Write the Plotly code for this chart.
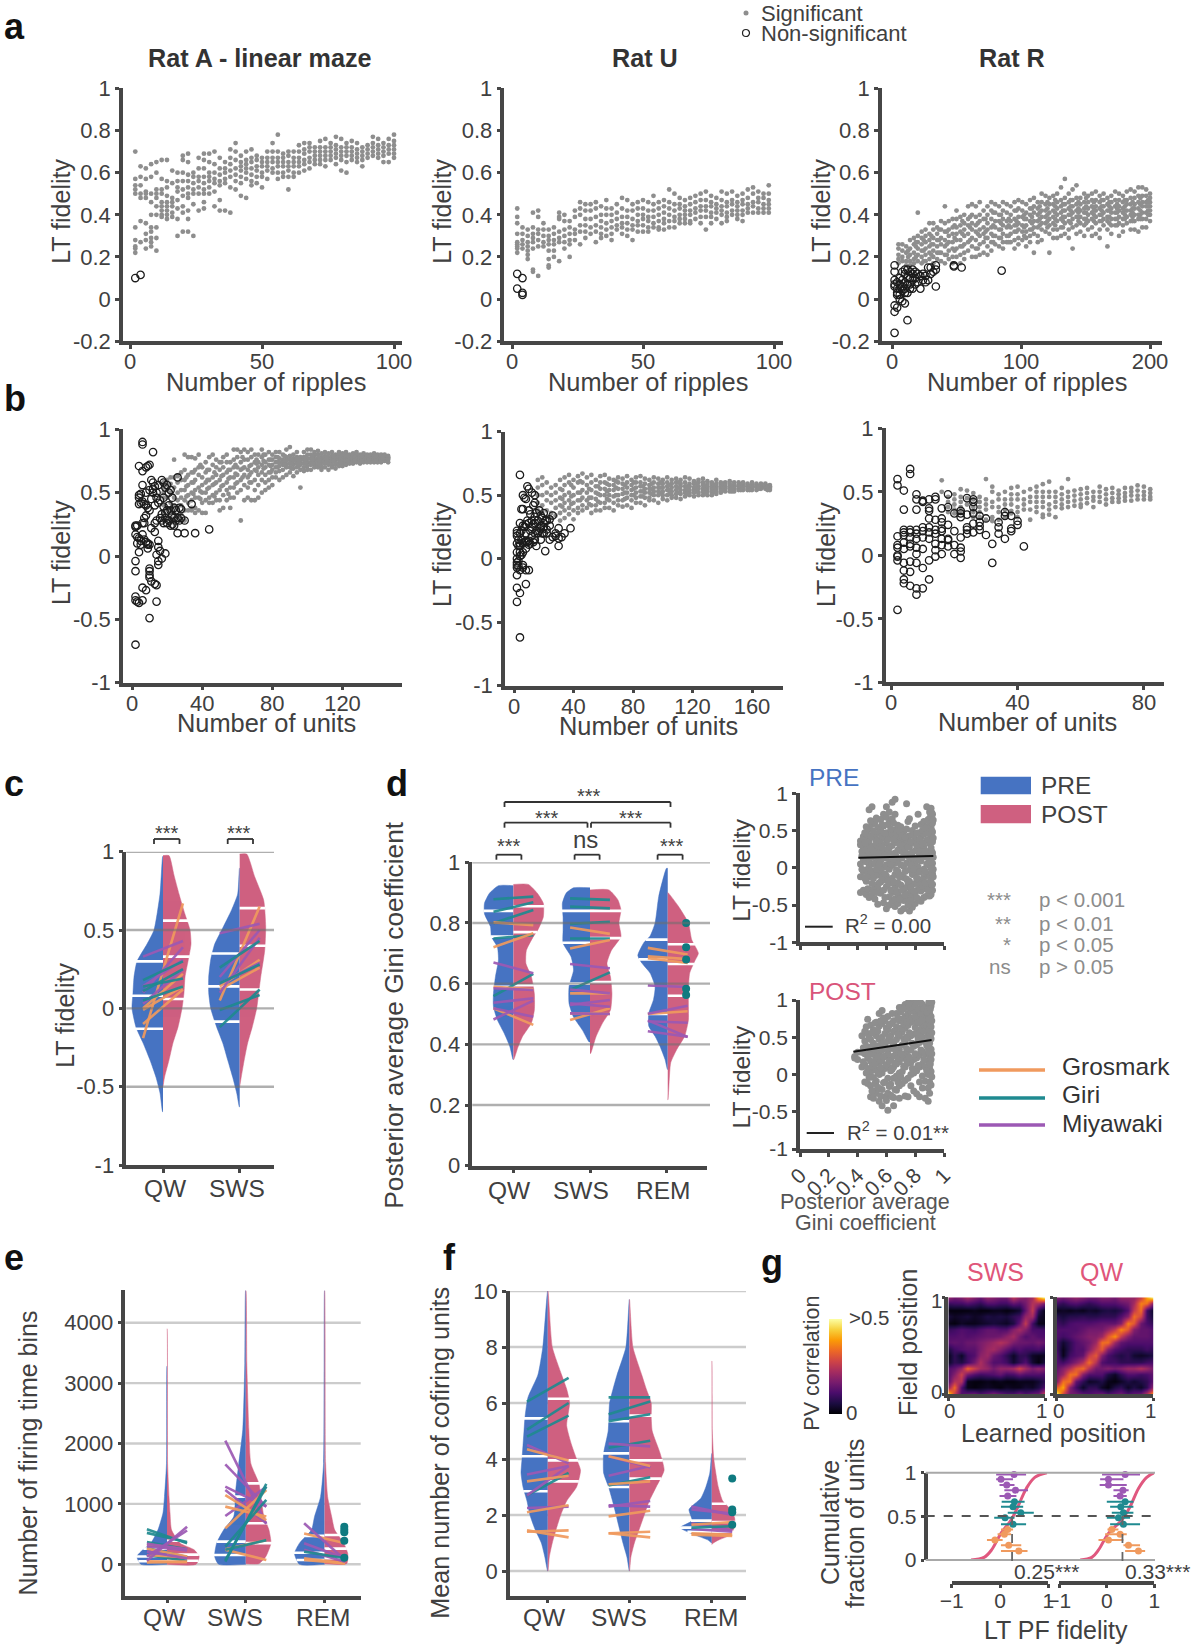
import numpy as np
import plotly.graph_objects as go

W, H = 1193, 1650
BLUE = "#4673C2"; RED = "#CF6080"; ORANGE = "#F09A5E"; TEAL = "#1F8A90"; PURPLE = "#9C59B4"
AXC = "#464646"; TXT = "#404040"; DOT = "#8e8e8e"; GRID = "#cccccc"; FONT = "Liberation Sans"

# ---------- panel a: fidelity vs number of ripples (x column -> y readings) ----------
a1_x = list(range(2, 102, 2))
a1_y = [[.70,.57,.54,.52,.50,.34,.28,.25,.24,.22],[.63,.58,.54,.50,.48,.37,.27],[.62,.57,.51,.50,.48,.36,.31,.28,.24],
[.64,.58,.50,.46,.40,.34,.32,.29,.27,.25],[.65,.60,.52,.50,.48,.44,.40,.34,.29,.23],[.66,.57,.52,.50,.46,.44,.42,.40,.39],
[.66,.56,.53,.49,.46,.44,.42,.40,.38],[.61,.55,.48,.46,.44,.41,.39],[.60,.56,.53,.51,.47,.43,.38,.30],[.68,.66,.60,.56,.52,.49,.44,.41,.32],
[.69,.65,.59,.56,.53,.50,.48,.42,.38,.32],[.60,.58,.55,.52,.50,.45,.30],[.67,.62,.58,.56,.53,.50,.42],[.69,.66,.62,.58,.55,.52,.50,.46,.43],
[.69,.65,.60,.58,.56,.53,.50],[.70,.64,.60,.57,.55,.51,.44],[.67,.62,.59,.56,.54,.47,.42],[.65,.62,.60,.57,.55,.42],[.71,.67,.64,.61,.58,.53,.41],
[.74,.70,.66,.62,.59,.56,.52],[.68,.65,.63,.61,.58,.55,.49],[.70,.66,.64,.62,.60,.57,.48],[.71,.67,.65,.62,.59,.56,.54],[.68,.66,.63,.61,.58,.55],
[.67,.65,.63,.60,.58,.53],[.70,.67,.65,.63,.61,.57],[.74,.70,.67,.65,.62,.60],[.78,.70,.67,.65,.63,.60,.57],[.69,.67,.65,.63,.60,.58],
[.70,.68,.65,.63,.61,.58,.52],[.70,.67,.65,.63,.60,.58],[.73,.70,.67,.65,.63,.60],[.74,.71,.69,.66,.64,.61],[.74,.72,.70,.67,.65,.62],
[.72,.70,.68,.66,.64],[.75,.72,.70,.68,.66,.64],[.76,.72,.70,.68,.66,.63],[.74,.72,.70,.68,.66],[.77,.73,.71,.69,.67,.64],[.76,.72,.70,.68,.66,.61],
[.74,.72,.70,.68,.65,.60],[.75,.72,.70,.68,.66],[.74,.71,.69,.67,.65],[.72,.70,.68,.66,.63],[.73,.71,.69,.67],[.77,.74,.72,.70,.68],
[.76,.73,.71,.69,.67],[.74,.72,.70,.68,.65],[.76,.73,.71,.69,.65],[.78,.75,.73,.71,.69,.67]]
a1_open_x = [2, 4]
a1_open_y = [[.10], [.115]]

a2_x = list(range(2, 100, 2))
a2_y = [[.43,.39,.36,.31,.27,.26,.25,.24,.22],[.34,.31,.28,.26,.24],[.33,.30,.27,.25,.23,.21,.19],[.41,.34,.31,.29,.27,.24,.14,.13],
[.42,.39,.33,.31,.28,.25,.11],[.36,.33,.30,.27,.25],[.33,.30,.28,.26,.23,.19,.16,.15],[.34,.31,.28,.26,.23,.20],[.41,.39,.38,.32,.29,.27,.18],
[.40,.37,.33,.30,.27,.24],[.37,.34,.31,.28,.26,.20],[.42,.39,.33,.31,.28],[.46,.43,.40,.35,.32,.26],[.45,.42,.38,.35,.32,.29],[.45,.42,.38,.34,.31],
[.46,.43,.39,.35,.32,.27],[.44,.40,.37,.34,.31,.29],[.47,.43,.40,.36,.33,.30],[.43,.40,.37,.34,.31,.28],[.45,.41,.38,.35,.33],[.48,.43,.39,.36,.34,.31],
[.47,.42,.39,.36,.33,.30],[.45,.42,.38,.35,.33,.28],[.46,.43,.40,.37,.35,.32],[.47,.43,.40,.38,.35,.32],[.46,.42,.39,.37,.34,.32],[.49,.45,.42,.39,.36,.34],
[.46,.43,.40,.37,.34,.33],[.47,.44,.41,.38,.36,.33],[.52,.46,.43,.40,.37,.34],[.50,.45,.42,.39,.37,.34],[.48,.45,.43,.40,.38,.36],[.47,.44,.42,.40,.38,.36],
[.48,.45,.42,.40,.37,.36],[.49,.46,.43,.41,.38],[.50,.47,.44,.42,.39,.36],[.51,.47,.44,.42,.39,.33],[.49,.46,.44,.41,.39,.36],[.48,.45,.43,.41,.38],
[.51,.47,.44,.42,.40,.36],[.50,.46,.44,.41,.39,.37],[.51,.47,.45,.42,.40],[.49,.46,.44,.42,.40,.38],[.50,.47,.45,.42,.40,.37],[.52,.48,.45,.43,.41],
[.53,.50,.46,.44,.41],[.51,.48,.46,.43,.41],[.50,.48,.45,.43,.41],[.54,.50,.47,.45,.43,.41]]
a2_open_x = [2, 4]
a2_open_y = [[.12,.05], [.03,.02,.10]]

a3_x = list(range(5, 203, 3))
a3_y = [[.26,.24,.21,.19,.17],[.26,.23,.20,.18],[.25,.22,.18,.16],[.28,.24,.21,.18,.16],[.29,.26,.22,.19,.17],[.41,.30,.27,.24,.21,.18],
[.32,.29,.26,.23,.20,.17],[.33,.30,.27,.24,.21,.18],[.36,.31,.28,.25,.22,.19],[.36,.33,.29,.26,.23,.20,.17],[.34,.31,.28,.25,.22,.19],[.37,.33,.29,.26,.22,.18],
[.44,.36,.32,.28,.25,.21,.17],[.37,.33,.30,.27,.23,.19],[.38,.34,.31,.27,.24,.20,.17],[.42,.38,.34,.31,.28,.24,.20],[.39,.35,.32,.28,.25,.21,.17],
[.40,.36,.33,.30,.26,.22,.19],[.44,.38,.35,.31,.27,.23],[.45,.40,.36,.33,.29,.25,.20],[.44,.39,.35,.32,.28,.24,.20],[.46,.40,.37,.33,.30,.26,.21],
[.42,.38,.34,.31,.27,.22],[.44,.40,.36,.33,.29,.25,.21],[.46,.42,.38,.34,.31,.27,.23],[.45,.41,.37,.34,.30,.26],[.44,.40,.37,.33,.29,.25],
[.46,.42,.38,.35,.31,.27,.24],[.45,.41,.37,.34,.30,.27],[.44,.40,.37,.34,.31,.27],[.46,.42,.38,.35,.32,.28,.24],[.47,.43,.39,.36,.33,.29,.26],
[.46,.42,.39,.35,.32,.28],[.45,.41,.38,.35,.32,.29,.25],[.47,.43,.40,.37,.33,.30,.27],[.48,.44,.41,.37,.34,.31,.22],[.46,.43,.40,.37,.34,.30,.27],
[.50,.46,.42,.39,.36,.33,.28],[.49,.45,.42,.39,.36,.32],[.48,.45,.41,.38,.35,.31,.22],[.49,.45,.42,.39,.36,.33,.29],[.50,.46,.43,.40,.37,.33,.29],
[.53,.47,.44,.41,.38,.34,.30],[.57,.48,.45,.42,.39,.36,.31],[.50,.46,.43,.40,.37,.33,.29],[.52,.47,.44,.41,.38,.34,.24],[.54,.48,.45,.42,.39,.35,.31],
[.48,.45,.42,.39,.36,.32],[.50,.46,.43,.41,.38,.35,.30],[.49,.46,.43,.40,.37,.33],[.50,.47,.44,.41,.38,.34,.30],[.51,.47,.44,.42,.39,.36,.31],
[.49,.46,.43,.40,.37,.33,.29],[.50,.47,.44,.41,.38,.35],[.48,.45,.42,.39,.37,.33,.25],[.49,.46,.43,.41,.38,.35,.31],[.51,.47,.44,.41,.38,.35],
[.50,.47,.44,.42,.39,.36,.30],[.49,.46,.43,.41,.38,.35,.32],[.51,.47,.45,.42,.39,.36],[.52,.48,.45,.42,.40,.37,.33],[.51,.48,.45,.43,.40,.37,.33],
[.53,.49,.46,.43,.40,.38,.32],[.53,.49,.46,.44,.41,.38,.34],[.52,.49,.46,.44,.41,.38,.34],[.50,.48,.46,.44,.42,.40,.37]]
# denser core of the Rat R cloud, between the columns above
a3_core_x = [x + 1.5 for x in range(11, 200, 6)]
a3_core_y = [[.23,.20],[.25,.20,.27],[.23,.28,.18],[.30,.21,.26],[.28,.33,.22],[.26,.32,.21],[.29,.35,.23],[.31,.25,.37],[.28,.34,.39],[.31,.24,.36],[.32,.29,.38],
[.35,.30,.27,.41],[.33,.36,.29,.40],[.30,.35,.38,.27],[.37,.32,.42,.35],[.34,.40,.38,.30],[.36,.43,.33,.39],[.41,.35,.38,.44],[.40,.37,.43,.34,.46],
[.38,.44,.41,.35,.47],[.42,.37,.45,.39,.34],[.44,.40,.36,.47,.42],[.39,.46,.43,.37,.41],[.41,.44,.38,.48,.36],[.43,.40,.46,.37,.42],[.40,.44,.37,.47,.42],
[.42,.46,.39,.44,.36],[.41,.38,.45,.43,.35],[.44,.40,.47,.38,.42],[.43,.46,.39,.41,.37],[.45,.42,.48,.40,.38],[.44,.47,.42,.40,.46],[.45,.43,.41,.47,.49]]
a3_open_x = [2,4,6,8,10,12,14,16,18,20,22,24,26,28,30,32,34,48,54,85]
a3_open_y = [[.16,.13,.09,.07,.06,-.03,-.06,-.16],[.08,.05,.03,.02,-.04],[.10,.07,.05,.02,0],[.13,.09,.06,.04,-.01],[.14,.12,.08,.05,.03,-.02],
[.14,.10,.07,.03,-.10],[.13,.10,.07,.05],[.14,.12,.09,.05],[.13,.10,.07],[.12,.08],[.11,.05],[.12,.09],[.11,.08],[.15,.09],[.15,.12],[.13],[.16,.14,.06],[.16,.155],[.15],[.135]]

# ---------- panel b: fidelity vs number of units ----------
b1_x = list(range(18, 148, 2))
b1_y = [[.58,.54,.50,.46,.40,.34,.28],[.60,.56,.52,.46,.38,.30],[.62,.57,.50,.42,.36,.30,.26],[.76,.62,.54,.46,.40,.34,.28],[.63,.58,.50,.44,.38,.32],
[.66,.60,.52,.46,.40,.33,.28],[.80,.68,.60,.52,.44,.36,.28],[.78,.64,.56,.48,.42,.36],[.78,.66,.58,.50,.44,.38,.36],[.77,.68,.60,.52,.46,.38,.34],
[.80,.70,.64,.54,.46,.36],[.70,.62,.56,.50,.42,.34],[.74,.66,.58,.50,.44,.34],[.78,.68,.60,.54,.46,.42],[.80,.72,.62,.56,.48,.42],[.76,.70,.64,.58,.50,.44],
[.74,.68,.60,.52,.44,.36],[.78,.70,.64,.56,.48,.38],[.80,.74,.66,.58,.52,.44],[.74,.68,.62,.54,.46,.38],[.84,.76,.70,.62,.54,.46],[.84,.78,.70,.64,.58,.50],
[.82,.74,.68,.60,.52,.28],[.84,.76,.70,.64,.56,.44],[.82,.76,.68,.62,.54,.46],[.84,.78,.72,.66,.58,.44],[.80,.74,.68,.60,.52,.44],[.80,.74,.70,.64,.56,.46],
[.84,.78,.72,.66,.60,.50],[.80,.74,.70,.64,.58,.52],[.82,.76,.72,.66,.60,.54],[.80,.76,.72,.68,.62,.56],[.82,.78,.74,.70,.66,.62],[.82,.77,.74,.71,.67,.60],
[.80,.76,.74,.72,.68,.62],[.84,.78,.75,.72,.70,.64],[.86,.79,.76,.73,.70,.66],[.80,.77,.75,.72,.69,.63],[.82,.78,.75,.73,.70,.66],[.78,.76,.74,.72,.68,.54],
[.82,.78,.76,.73,.70,.67],[.84,.80,.77,.74,.71,.68],[.84,.80,.77,.74,.72,.68],[.82,.79,.76,.74,.72,.70],[.83,.80,.77,.75,.72,.70],[.81,.78,.76,.74,.71,.68],
[.82,.79,.77,.75,.73,.70],[.81,.78,.76,.74,.72,.68],[.82,.79,.77,.75,.72,.70],[.80,.78,.76,.74,.72,.69],[.82,.80,.78,.76,.73,.71],[.81,.79,.77,.75,.73,.71],
[.82,.80,.78,.76,.74,.72],[.80,.78,.77,.75,.73],[.81,.79,.77,.75,.73],[.82,.80,.78,.76,.74],[.80,.78,.76,.74,.73],[.81,.79,.77,.75,.74],[.80,.79,.77,.75,.74],
[.80,.78,.77,.75,.74],[.81,.79,.77,.76,.74],[.80,.79,.77,.76,.74],[.80,.78,.77,.76,.74],[.80,.79,.77,.76,.75],[.79,.78,.77,.76,.74]]
b1_core_x = list(range(31, 147, 4))
b1_core_y = [[.55,.47,.62],[.58,.49,.66],[.51,.45,.72],[.60,.53,.68],[.57,.66,.47],[.63,.55,.74],[.68,.61,.49],[.65,.72,.57],[.69,.62,.78],[.71,.64,.58],[.73,.67,.76],[.75,.69,.80],[.76,.71,.66],
[.74,.78,.70],[.75,.72,.79],[.76,.73,.69],[.77,.74,.71],[.78,.75,.73],[.76,.79,.73],[.77,.75,.72],[.78,.76,.74],[.77,.75,.79],[.78,.76,.74],[.77,.75,.79],[.78,.76,.75],[.77,.79,.75],[.78,.76,.75],[.77,.75,.79],[.78,.76,.77]]
b1_open_x = [2,3,4,5,6,7,8,9,10,11,12,13,14,15,16,17,18,19,20,21,22,23,24,25,26,27,28,30,34,36,44]
b1_open_y = [[.24,.23,.17,-.04,-.12,-.32,-.35,-.70],[.15,.10,.24,-.36],[.71,.48,.46,.41,.14,.03,-.37],[.49,.42,.12,.09],[.90,.88,.67,.56,.43,.26,.17,-.25,-.35],
[.41,.30,.26,.13],[.70,.50,.40,.32,.11,-.27],[.71,.38,.10,.09,.06],[.72,.52,.36,.09,-.10,-.12,-.15,-.17,-.49],[.60,.45,.22,-.20],[.82,.58,.53,.50],
[.55,.40,.26,.19,-.22],[.50,.46,.28,.01,-.23,-.36],[.56,.42,.12,.07,-.04,-.07],[.44,.30,.04],[.60,.33,.28,-.02],[.58,.46,.39,.26],[.54,.34,.30,.02],
[.56,.36,.26],[.50,.40,.28],[.52,.36,.24],[.46,.32,.25],[.38,.30,.24],[.36,.28],[.62,.30,.18],[.38,.28],[.37,.30],[.28,.18],[.41],[.18],[.21]]

b2_x = list(range(16, 175, 3))
b2_y = [[.62,.56,.50,.44,.38],[.64,.58,.50,.42,.36],[.60,.52,.46,.38,.33],[.56,.50,.44,.36,.32],[.58,.52,.46,.40,.34],[.62,.55,.48,.42,.36,.30],
[.64,.58,.50,.44,.38,.32],[.66,.60,.52,.46,.40,.35],[.62,.56,.50,.44,.38,.31],[.65,.60,.52,.46,.40,.36],[.67,.60,.54,.48,.42,.38],[.64,.58,.52,.46,.40],
[.66,.60,.54,.48,.42,.36],[.62,.57,.52,.47,.42,.38],[.65,.60,.55,.50,.44,.38],[.66,.60,.55,.50,.44,.40],[.63,.58,.54,.50,.46,.40],[.62,.58,.54,.49,.44,.38],
[.64,.60,.55,.50,.46,.42],[.63,.59,.55,.51,.46,.41],[.65,.60,.56,.52,.48,.42],[.62,.58,.54,.50,.46,.40],[.64,.60,.56,.52,.48,.44],[.65,.60,.57,.53,.49,.44],
[.63,.59,.55,.52,.48,.42],[.62,.58,.55,.52,.48,.46],[.64,.60,.56,.53,.50,.46],[.63,.59,.56,.53,.50,.44],[.62,.59,.56,.53,.50,.47],[.64,.60,.57,.54,.50,.46],
[.62,.59,.56,.53,.50,.48],[.63,.60,.57,.54,.51,.48],[.62,.59,.57,.54,.51,.47],[.64,.60,.57,.54,.52,.49],[.63,.59,.57,.54,.52,.50],[.61,.59,.56,.54,.52,.49],
[.62,.60,.57,.55,.52,.50],[.63,.60,.58,.55,.53,.50],[.61,.59,.57,.55,.53,.50],[.60,.58,.56,.54,.52,.50],[.62,.59,.57,.55,.53,.51],[.60,.58,.56,.54,.52],
[.60,.58,.56,.55,.53],[.61,.59,.57,.55,.53],[.60,.58,.57,.55,.53],[.60,.58,.57,.55,.54],[.60,.59,.57,.56,.54],[.59,.58,.57,.55,.54],[.60,.58,.57,.56,.54],
[.59,.58,.57,.56,.54],[.59,.58,.57,.56,.55],[.59,.58,.57,.56,.55],[.58,.57,.56,.55,.54],[.58,.57,.56,.55]]
b2_core_x = [x + 1.5 for x in range(31, 170, 6)]
b2_core_y = [[.54,.47,.41],[.58,.49,.43],[.52,.46,.61],[.55,.48,.43],[.51,.57,.45],[.53,.59,.47],[.56,.50,.61],[.52,.58,.47],[.55,.50,.60],[.57,.53,.49],[.55,.59,.51],[.56,.52,.60],
[.58,.54,.51],[.56,.60,.52],[.57,.54,.51],[.55,.59,.53],[.57,.54,.52],[.58,.55,.53],[.56,.54,.59],[.57,.55,.53],[.58,.56,.54],[.57,.55,.54],[.57,.56,.55],[.57,.56,.54]]
b2_open_x = [2,3,4,5,6,7,8,9,10,11,12,13,14,15,16,17,18,19,20,21,22,24,26,28,30,32,34,38]
b2_open_y = [[.22,.20,.18,.12,.05,.0,-.03,-.05,-.07,-.13,-.23,-.34],[.15,.10,-.02,-.06],[.66,.28,.20,.12,.10,.05,.02,-.09,-.27,-.62],[.39,.22,.15,.03],
[.50,.39,.26,.12,.05,-.05,-.07],[.48,.25,.13],[.47,.27,.20,.14,.08,-.09,-.20],[.57,.30,.13],[.55,.38,.28,.14,.11,-.09],[.35,.22,.12],[.52,.30,.25,.18],
[.42,.27,.13],[.50,.44,.33,.28,.20,.15],[.36,.22,.10],[.30,.20],[.38,.22],[.34,.26,.24,.15],[.32,.20],[.36,.28,.25,.20],[.06,.30],[.30,.23,.20],[.31,.26,.15],
[.34,.17],[.20,.18],[.24,.16,.10],[.17],[.20],[.24]]

b3_x = list(range(16, 84, 2))
b3_y = [[.59,.50],[.46,.42,.38,.34],[.48,.44,.40,.36,.33],[.52,.46,.42,.38,.34],[.51,.45,.40],[.49,.44,.38,.34,.30],[.46,.42,.38,.34,.30],[.60,.44,.40,.36,.28],
[.54,.50,.42,.38,.30,.27],[.48,.44,.38,.34,.28],[.50,.44,.40,.36,.30],[.53,.48,.44,.40,.35,.33],[.54,.48,.44,.38,.34,.30],[.50,.44,.40,.36],[.52,.46,.42,.36,.28],
[.54,.50,.46,.42,.38,.34],[.56,.50,.46,.42,.38,.32,.30],[.58,.50,.46,.40,.36,.32],[.50,.46,.42,.38,.30],[.53,.48,.44,.40,.37],[.60,.50,.46,.42,.38],[.51,.47,.43,.39],
[.52,.48,.44,.40,.38],[.53,.49,.45,.41],[.50,.46,.43,.38],[.54,.50,.46,.42],[.52,.48,.44,.40],[.53,.49,.45,.42],[.51,.48,.45,.42],[.53,.49,.46,.43],[.53,.50,.47,.43],
[.55,.51,.47,.44],[.54,.50,.47,.44],[.52,.49,.46,.44]]
b3_open_x = [2,4,6,8,10,12,14,16,18,20,22,24,26,28,30,32,34,36,38,40,42]
b3_open_y = [[.60,.55,.15,.08,.06,0,-.01,-.04,-.43],[.51,.36,.20,.18,.16,.10,.05,-.06,-.12,-.19,-.22],[.68,.64,.20,.18,.14,.09,.07,-.05,-.13,-.24],
[.48,.44,.36,.20,.17,.13,.06,.01,-.06,-.26,-.31],[.43,.42,.22,.19,.14,.05,-.10,-.26],[.44,.37,.35,.29,.22,.18,.13,-.04,-.19],[.46,.44,.28,.20,.17,.09,.04,-.01],
[.37,.29,.26,.21,.19,.13,.08,.01],[.48,.38,.24,.13,.12,.07],[.33,.19,.08,.01],[.35,.33,.30,.14,.06,.03,-.02],[.45,.32,.22,.20,.17],[.44,.42,.38,.33,.25,.18],
[.31,.26,.23,.20],[.29,.16],[.09,-.06],[.26,.22,.17],[.34,.31,.13],[.31,.21,.19],[.27,.24],[.07]]

# ---------- violins: (value, half width) readings; white quartile marks; paired lines (pre, post) ----------
c_qw_pre = [(.97,.3),(.73,3),(.5,9),(.41,16),(.3,26),(.2,29),(.1,30),(0,31),(-.12,27),(-.22,20),(-.33,13),(-.44,7),(-.54,3),(-.66,.4)]
c_qw_post = [(.975,6),(.85,11),(.73,16),(.6,22),(.5,27),(.41,28),(.3,25),(.2,22),(.1,21),(0,19),(-.12,15),(-.22,10),(-.33,6),(-.44,1.5),(-.5,0)]
c_sws_pre = [(.895,.2),(.73,2),(.63,8),(.5,18),(.41,25),(.31,29),(.2,31),(.1,31),(0,29),(-.12,23),(-.22,17),(-.33,12),(-.44,7),(-.54,3),(-.63,.3)]
c_sws_post = [(.985,7),(.84,15),(.69,24),(.52,26),(.37,25),(.2,21),(.1,19),(0,17),(-.12,12.5),(-.22,8),(-.33,4.5),(-.44,1.5),(-.5,0)]
c_white = {"qw_pre":[.30,.08,-.13],"qw_post":[.56,.33,.06],"sws_pre":[.35,.14,-.085],"sws_post":[.64,.40,.12]}
c_qw_orange = [(-.19,.67),(0,.22),(-.1,.12),(-.01,.14)]
c_qw_purple = [(.33,.43),(.14,.31),(.1,.39),(.03,.25)]
c_qw_teal = [(.18,.30),(.14,.19),(.11,.25),(.05,.14)]
c_sws_orange = [(.05,.65),(.14,.31),(.12,.26)]
c_sws_purple = [(.48,.54),(.2,.5),(.1,.45),(.16,.29)]
c_sws_teal = [(.26,.43),(.16,.28),(-.01,.085),(-.12,.12)]

d_qw_pre = [(.923,15),(.898,24),(.865,29),(.83,29),(.788,23),(.755,22),(.72,16),(.678,15),(.623,18),(.567,20),(.524,20),(.48,16),(.435,9),(.392,3.5),(.35,.4)]
d_qw_post = [(.927,15),(.898,24),(.865,30),(.82,30),(.777,24.5),(.755,20),(.71,13),(.667,12.5),(.623,18),(.567,21),(.513,21),(.47,18),(.425,9),(.39,4.5),(.35,.4)]
d_sws_pre = [(.916,16.5),(.898,24),(.865,27.7),(.82,27),(.777,27),(.733,27),(.689,19),(.645,16.5),(.59,21),(.535,21),(.49,16.5),(.447,7.6),(.408,1)]
d_sws_post = [(.909,19),(.876,28),(.843,31),(.80,29),(.755,31),(.71,21.5),(.667,17),(.623,20.5),(.567,22),(.513,20.5),(.47,12.5),(.425,6),(.37,.6)]
d_rem_pre = [(.98,1.3),(.888,9),(.80,12.7),(.757,17.7),(.735,24),(.693,30),(.668,26),(.635,17.7),(.59,12.7),(.547,14.3),(.503,19),(.46,19),(.427,12.7),(.393,7.7),(.35,2.7),(.317,.3)]
d_rem_post = [(.90,.3),(.855,10.7),(.80,20.7),(.745,24),(.70,30.7),(.674,27),(.635,22),(.58,20.7),(.525,20.7),(.48,20.7),(.427,17),(.383,9),(.34,3),(.272,1.3),(.217,.2)]
d_white = {"qw_pre":[.84,.755,.59],"qw_post":[.855,.77,.595],"sws_pre":[.84,.735,.60],"sws_post":[.84,.75,.605],"rem_pre":[.745,.68,.50],"rem_post":[.73,.665,.56]}
d_qw_teal = [(.878,.887),(.837,.868),(.799,.843),(.749,.76),(.559,.632)]
d_qw_orange = [(.72,.766),(.802,.793),(.59,.581),(.519,.464)]
d_qw_purple = [(.67,.634),(.585,.579),(.537,.552),(.519,.491),(.482,.544)]
d_sws_teal = [(.881,.876),(.854,.848),(.797,.804),(.749,.749),(.579,.637)]
d_sws_orange = [(.785,.764),(.716,.744),(.568,.568),(.502,.50),(.48,.519)]
d_sws_purple = [(.665,.651),(.581,.568),(.53,.546),(.535,.524),(.502,.50)]
d_rem_orange = [(.718,.696),(.69,.681),(.684,.668),(.50,.509)]
d_rem_purple = [(.594,.589),(.501,.527),(.476,.471),(.479,.424),(.443,.425)]
d_rem_dots = [.80,.72,.68,.583,.563]

e_qw_pre = [(3280,.1),(1670,.5),(1120,2.5),(850,4),(570,9),(350,16),(240,24),(130,30),(0,26)]
e_qw_post = [(3900,.1),(1670,.6),(1120,2),(850,3),(570,4.5),(350,13),(240,27),(130,32),(0,29)]
e_sws_pre = [(4530,.2),(3330,1),(2230,3),(1670,7),(1230,10),(790,12),(570,22),(350,29),(130,31),(0,27)]
e_sws_post = [(4530,.2),(3330,1),(2230,3),(1670,5),(1340,13),(1120,15),(790,18),(570,23),(350,25),(130,20),(10,13)]
e_rem_pre = [(4530,.1),(1670,1),(1120,4),(790,10),(570,13),(350,25),(180,30),(0,25)]
e_rem_post = [(4530,.1),(1670,1),(1120,3),(790,7),(570,10),(350,19),(180,23),(10,22)]
e_white = {"qw_pre":[50,130,260],"qw_post":[60,160,390],"sws_pre":[155,375,1120],"sws_post":[350,680,1340],"rem_pre":[70,190,470],"rem_post":[100,260,485]}
e_qw_teal = [(580,350),(520,370),(370,250),(150,60),(270,120)]
e_qw_purple = [(60,620),(130,560),(300,230),(210,100),(340,250)]
e_qw_orange = [(330,240),(260,130),(30,40),(50,40),(150,120)]
e_sws_purple = [(2047,670),(1655,955),(1285,955),(800,1285),(1230,680)]
e_sws_orange = [(1147,730),(955,790),(595,1230),(248,400),(240,72)]
e_sws_teal = [(44,1330),(292,1065),(70,1285),(240,400)]
e_rem_purple = [(680,72),(350,100),(240,44)]
e_rem_orange = [(510,350),(70,15),(100,15)]
e_rem_teal = [(210,100)]
e_rem_dots = [620,570,530,390,110]

f_qw_pre = [(10,.2),(8,5),(7,10),(6.2,20),(5.5,23),(5,24),(4.5,25),(4,26),(3.5,27),(3,25),(2.5,21),(2,18),(1.5,13),(1,6.5),(.5,3),(0,.2)]
f_qw_post = [(10,.2),(8,4.5),(7,14),(6.5,19),(6,22),(5.2,19),(4.5,24),(4,29),(3.6,33),(3,29),(2.5,19),(2,13),(1.5,8.5),(1,4.5),(.5,1.5),(0,.2)]
f_sws_pre = [(9.7,.1),(8,3.5),(7,12.5),(6.5,16.5),(6,20),(5,21.4),(4.2,26),(3.5,26),(3,21),(2.5,17),(2,13.4),(1.5,10),(1,6.5),(.5,2.5),(0,.1)]
f_sws_post = [(9.7,.1),(8,3.5),(7,12.5),(6.5,17),(6,22),(5.5,22),(5,23),(4.2,31),(3.6,35),(3,27),(2.5,20),(2,15),(1.5,10),(1,5),(.5,1.5),(0,.1)]
f_rem_pre = [(4.2,.1),(3.5,2),(3,6),(2.6,11),(2.2,23),(1.8,20),(1.55,32),(1.3,18),(1.1,3.5),(1,.2)]
f_rem_post = [(7.5,.1),(5,.5),(4,2),(3,6.5),(2.5,11),(2.2,19),(1.9,23),(1.6,23),(1.3,19),(1.1,6.5),(1,1.5),(.95,.2)]
f_white = {"qw_pre":[5.45,4.1,2.85],"qw_post":[6.15,3.95,3.2],"sws_pre":[5.35,4.2,3.0],"sws_post":[5.55,3.95,3.3],"rem_pre":[1.8,1.55,1.4],"rem_post":[2.4,1.75,1.4]}
f_qw_teal = [(6.05,6.9),(5.05,6.0),(4.8,5.55),(2.7,3.5)]
f_qw_purple = [(4.5,3.85),(3.45,3.75),(2.7,3.75),(2.25,2.3)]
f_qw_orange = [(4.35,3.95),(3.2,3.4),(2.1,2.35),(1.4,1.45),(1.45,1.2)]
f_sws_teal = [(6.2,6.2),(5.6,6.05),(5.35,5.6),(4.4,4.65),(3.05,3.35)]
f_sws_purple = [(4.55,4.45),(3.4,3.75),(4.1,3.7),(2.3,2.5),(2.35,2.3)]
f_sws_orange = [(4.1,3.75),(3.1,3.2),(1.95,2.15),(1.35,1.4),(1.35,1.2)]
f_rem_purple = [(2.3,2.0),(2.2,2.05),(1.5,1.4),(1.7,1.45)]
f_rem_teal = [(1.55,1.6)]
f_rem_orange = [(1.65,1.75),(1.3,1.25),(1.35,1.3)]
f_rem_dots = [3.3,2.2,2.1,1.65]

# ---------- panel d insets ----------
pre_x = [.42,.44,.46,.48,.50,.52,.54,.56,.58,.60,.62,.64,.66,.68,.70,.72,.74,.76,.78,.80,.82,.84,.86,.88,.90,.91,.92]
pre_y = [[.36,.31,.05,-.12,-.33],[.42,.25,.11,-.05,-.30],[.55,.38,.31,.17,.08,-.03,-.18,-.36],[.78,.52,.35,.21,.12,.01,-.12,-.29,-.40],[.82,.58,.41,.28,.14,.05,-.07,-.21,-.37],
[.61,.44,.30,.17,.06,-.07,-.23,-.42],[.54,.38,.26,.11,-.01,-.10,-.27,-.49],[.65,.50,.33,.22,.09,-.04,-.19,-.34],[.72,.56,.40,.24,.13,.01,-.16,-.30,-.47],[.82,.68,.47,.33,.18,.04,-.11,-.25,-.55],
[.75,.61,.43,.27,.11,-.02,-.21,-.39,-.50],[.88,.66,.44,.30,.15,.03,-.14,-.33,-.45],[.92,.72,.51,.34,.20,.06,-.09,-.24,-.42,-.52],[.57,.41,.24,.10,-.05,-.20,-.36,-.48],
[.55,.37,.23,.04,-.10,-.23,-.40,-.58],[.48,.33,.17,.02,-.13,-.30,-.44,-.55],[.86,.52,.36,.19,.06,-.15,-.26,-.42],[.66,.43,.28,.13,-.03,-.18,-.34,-.50,-.58],[.50,.34,.21,.06,-.09,-.22,-.38,-.53],
[.56,.38,.23,.07,-.08,-.21,-.33,-.48],[.72,.47,.30,.12,.01,-.15,-.29,-.42],[.58,.41,.25,.09,-.05,-.18,-.31,-.45],[.62,.45,.29,.15,-.02,-.13,-.28,-.40],[.82,.55,.37,.22,.05,-.08,-.23,-.38],
[.75,.62,.47,.33,.18,.03,-.11,-.25,-.38],[.80,.68,.55,.42,.27,.13,0,-.15,-.28,-.36],[.72,.60,.48,.35,.20,.06,-.08,-.22,-.30]]
pre_x2 = [.43,.45,.47,.49,.51,.53,.55,.57,.59,.61,.63,.65,.67,.69,.71,.73,.75,.77,.79,.81,.83,.85,.87,.89,.905,.915,.925]
pre_y2 = [[.22,-.02,.16],[.33,-.14,.47],[.44,-.09,.24,-.28],[.63,.27,-.04,.43],[.49,.22,-.14,-.30],[.67,.36,-.02,-.33],[.47,.19,-.20,.05],[.58,.28,-.12,.42],[.46,.17,-.08,-.40],[.58,.25,-.17,.38],
[.52,.19,-.30,.05],[.38,.11,-.19,.60],[.45,.15,-.31,-.03],[.49,.32,-.12,-.42],[.30,.13,-.30,.43],[.41,.25,-.05,-.37],[.62,.28,-.20,-.50],[.35,.04,-.26,-.44],[.44,.13,-.31,-.02],[.46,.30,-.14,-.40],
[.37,.18,-.23,-.06],[.50,.16,-.25,.33],[.53,.22,-.20,-.05],[.46,.13,-.30,.65],[.68,.38,.08,-.18],[.74,.50,.22,-.05,-.22],[.64,.40,.14,-.12,-.02]]
pre_fit_x = [.405,.926]; pre_fit_y = [.136,.159]
post_x = [.38,.40,.43,.45,.47,.49,.51,.53,.55,.57,.59,.61,.63,.65,.67,.69,.71,.73,.75,.77,.79,.81,.83,.85,.87,.89,.90,.91]
post_y = [[.24,.22],[.30,.20],[.52,.30,.10],[.58,.45,.28,.13,-.10],[.74,.55,.37,.22,.08,-.12],[.66,.47,.32,.18,.03,-.15,-.30],[.60,.42,.27,.10,-.04,-.22,-.32],
[.70,.52,.38,.21,.06,-.09,-.25],[.82,.65,.47,.30,.15,0,-.19,-.36],[.86,.68,.50,.33,.18,.02,-.20,-.42],[.72,.55,.40,.24,.08,-.10,-.30],[.78,.60,.45,.28,.11,-.05,-.25,-.48],
[.68,.52,.35,.20,.05,-.13,-.28],[.72,.58,.42,.25,.10,-.05,-.31,-.42],[.82,.64,.47,.30,.14,-.02,-.21],[.90,.72,.52,.34,.17,.02,-.15,-.32],[.90,.74,.57,.40,.22,.04,-.12],
[.94,.78,.62,.44,.28,.10,-.08,-.29],[.96,.82,.66,.49,.32,.15,-.05,-.30],[.98,.85,.70,.52,.33,.16,0,-.15],[.98,.86,.72,.54,.38,.20,.02,-.22],[.97,.84,.69,.56,.40,.22,.05,-.26],
[.98,.86,.74,.60,.43,.26,.10,-.10,-.30],[.94,.80,.66,.50,.31,.14,-.02,-.18],[.90,.76,.61,.44,.28,.10,-.09,-.32],[.92,.80,.68,.52,.36,.18,0,-.18,-.36],
[.95,.82,.70,.56,.42,.25,.08,-.10,-.25],[.92,.78,.64,.48,.34,.20,.04,-.14]]
post_x2 = [.44,.46,.48,.50,.52,.54,.56,.58,.60,.62,.64,.66,.68,.70,.72,.74,.76,.78,.80,.82,.84,.86,.88,.895,.905,.915]
post_y2 = [[.36,.17],[.64,.38,.02],[.50,.27,-.04],[.56,.38,.11,-.22],[.69,.34,.14,-.12],[.58,.24,.03,-.17],[.72,.39,.09,-.29],[.76,.42,.24,-.11],[.62,.35,.13,-.35],[.66,.50,.18,-.16],[.82,.44,.07,-.30],[.58,.34,.15,-.20],
[.76,.54,.22,-.10],[.84,.62,.28,-.03],[.88,.68,.48,.11],[.70,.50,.35,.19],[.90,.74,.56,.23],[.94,.76,.42,.08],[.92,.78,.63,.28],[.88,.70,.48,.12],[.96,.82,.53,.33],[.88,.72,.58,.20],[.84,.66,.39,.05],[.97,.74,.60,.30],[.88,.66,.50,.14],[.97,.72,.56,.28,-.03]]
post_fit_x = [.37,.914]; post_fit_y = [.306,.463]

# ---------- panel g ----------
heat_pos = [0,.067,.133,.2,.267,.333,.4,.467,.533,.6,.667,.733,.8,.867,.933,1]
sws_rows_top_down = [
[.20,.16,.18,.22,.18,.15,.20,.18,.16,.16,.25,.20,.18,.22,.40,.50],[.09,.10,.10,.12,.10,.08,.12,.12,.10,.10,.14,.12,.16,.24,.22,.16],
[.01,.01,.01,.01,.02,.01,.01,.02,.02,.01,.02,.04,.14,.26,.08,.01],[.05,.03,.04,.05,.03,.04,.06,.05,.06,.05,.08,.10,.20,.22,.04,.02],
[.02,.01,.03,.02,.02,.03,.04,.05,.04,.03,.06,.14,.26,.10,.02,.02],[.09,.10,.12,.11,.10,.12,.14,.14,.12,.12,.18,.22,.18,.11,.11,.10],
[.12,.12,.13,.12,.13,.14,.15,.15,.16,.19,.22,.16,.12,.14,.12,.12],[.13,.14,.13,.15,.15,.17,.19,.21,.24,.22,.17,.15,.15,.14,.16,.14],
[.06,.10,.12,.13,.13,.17,.21,.22,.18,.14,.10,.12,.10,.10,.11,.08],[.02,.08,.03,.10,.12,.19,.21,.15,.12,.08,.03,.08,.08,.03,.02,.03],
[.03,.08,.06,.10,.16,.23,.17,.12,.12,.10,.04,.08,.12,.04,.01,.06],[.12,.14,.20,.33,.27,.22,.20,.16,.20,.20,.22,.28,.22,.17,.20,.17],
[.12,.18,.27,.16,.12,.10,.11,.12,.14,.10,.11,.14,.12,.12,.12,.11],[.13,.24,.24,.02,.01,.01,.02,.01,.02,.01,.01,.02,.02,.02,.04,.08],
[.20,.34,.12,.02,.01,.02,.03,.02,.01,.03,.02,.02,.04,.03,.06,.12],[.48,.26,.12,.15,.16,.12,.15,.18,.15,.12,.12,.16,.12,.15,.16,.30]]
qw_rows_top_down = [
[.18,.16,.18,.20,.18,.16,.16,.18,.18,.16,.20,.20,.20,.26,.40,.50],[.10,.08,.11,.12,.10,.08,.10,.12,.12,.12,.14,.16,.22,.36,.34,.16],
[.02,.03,.02,.03,.02,.04,.03,.05,.06,.05,.07,.12,.26,.34,.10,.02],[.07,.05,.07,.07,.08,.07,.07,.08,.08,.08,.12,.18,.34,.28,.10,.04],
[.10,.08,.11,.12,.12,.12,.13,.14,.14,.14,.18,.36,.31,.15,.11,.08],[.12,.12,.12,.12,.14,.16,.16,.16,.20,.26,.37,.31,.18,.14,.14,.12],
[.12,.10,.12,.14,.16,.18,.18,.21,.31,.38,.26,.18,.14,.14,.14,.12],[.10,.04,.08,.12,.14,.16,.21,.34,.34,.21,.14,.12,.12,.12,.12,.12],
[.10,.02,.08,.12,.12,.18,.26,.31,.18,.12,.10,.08,.08,.08,.10,.08],[.12,.02,.10,.12,.14,.26,.31,.18,.11,.08,.06,.08,.04,.03,.04,.06],
[.12,.10,.14,.18,.24,.34,.24,.12,.10,.10,.08,.08,.08,.08,.10,.11],[.14,.18,.24,.31,.34,.24,.16,.16,.18,.16,.18,.21,.21,.24,.21,.16],
[.16,.21,.34,.34,.18,.12,.12,.12,.06,.03,.08,.12,.12,.10,.11,.14],[.18,.34,.34,.14,.08,.03,.04,.06,.02,.01,.03,.06,.04,.06,.08,.14],
[.32,.40,.18,.10,.03,.08,.08,.03,.01,.06,.08,.03,.06,.03,.08,.21],[.50,.28,.16,.16,.14,.12,.14,.16,.12,.14,.16,.12,.14,.16,.25,.42]]

cdf_sws_x = [-.6,-.33,-.175,.02,.23,.37,.545,.72,.97]
cdf_qw_x = [-.56,-.316,-.175,.035,.316,.49,.667,.84,1.0]
cdf_y = [0,.03,.115,.305,.458,.61,.82,.947,1]
session_y = [.98,.925,.86,.80,.733,.668,.61,.54,.485,.41,.35,.295,.23,.168,.103]
session_color = [PURPLE]*5 + [TEAL]*5 + [ORANGE]*5
sws_mean = [.29,.02,.14,.32,.16,.30,.27,.43,.105,.27,.16,.09,-.105,.18,.39]
sws_lo = [-.08,-.08,-.01,.09,-.01,.035,.02,.16,-.12,.02,.02,-.05,-.27,.02,.02]
sws_hi = [.54,.27,.30,.58,.34,.51,.48,.70,.30,.54,.27,.23,.055,.44,.57]
qw_mean = [.386,.035,.035,.34,.28,.386,.295,.35,.245,.35,.105,.28,.035,.456,.667]
qw_lo = [-.1,-.14,-.15,.14,.14,0,.07,.105,0,.07,.014,-.035,-.175,.35,.386]
qw_hi = [.70,.35,.42,.46,.42,.56,.56,.56,.49,.70,.245,.42,.35,.70,.807]
sws_median, qw_median = .25, .33

# ---------- helpers ----------
fig = go.Figure()
annots, shapes = [], []
def px(x): return x / W
def py(y): return 1 - y / H
def text(x, y, s, size=24, color=TXT, bold=False, angle=0, anchor="center"):
    annots.append(dict(x=px(x), y=py(y), xref="paper", yref="paper", text=f"<b>{s}</b>" if bold else s, showarrow=False,
                       font=dict(family=FONT, size=size, color=color), textangle=angle, xanchor=anchor, yanchor="middle"))
def pline(x0, y0, x1, y1, color=AXC, width=2, dash=None):
    shapes.append(dict(type="line", xref="paper", yref="paper", x0=px(x0), y0=py(y0), x1=px(x1), y1=py(y1),
                       line=dict(color=color, width=width, dash=dash), layer="above"))
def bracket(x0, x1, y, drop=5):
    for a, b, c, d in [(x0,y,x1,y),(x0,y,x0,y+drop),(x1,y,x1,y+drop)]:
        pline(a, b, c, d, color="#333333", width=1.8)
def lin(a, b, p):
    (p0, v0), (p1, v1) = a, b
    return v0 + (p - p0) * (v1 - v0) / (p1 - p0)
def axes(n, x0, x1, ytop, ybot, xa, xb, ya, yb, xt=None, xl=None, yt=None, yl=None, tickfs=22, xangle=0, ticklen=4):
    xr = [lin(xa, xb, x0), lin(xa, xb, x1)]
    yr = [lin(ya, yb, ybot), lin(ya, yb, ytop)]
    base = dict(showline=True, linecolor=AXC, linewidth=3.5, ticks="outside", ticklen=ticklen, tickwidth=3, tickcolor=AXC,
                showgrid=False, zeroline=False, tickfont=dict(family=FONT, size=tickfs, color=TXT))
    fig.layout[f"xaxis{n}"] = dict(base, domain=[px(x0), px(x1)], range=xr, anchor=f"y{n}", tickmode="array", tickvals=xt or [],
                                   showticklabels=xl is not None, ticktext=xl, tickangle=xangle, ticklabelstandoff=-2 if xangle else -6)
    fig.layout[f"yaxis{n}"] = dict(base, domain=[py(ybot), py(ytop)], range=yr, anchor=f"x{n}", tickmode="array", tickvals=yt or [],
                                   showticklabels=yl is not None, ticktext=yl)
def expand(xs, ys):
    ox, oy = [], []
    for x, col in zip(xs, ys):
        for v in col:
            ox.append(x); oy.append(v)
    return ox, oy
def cloud(n, xs, ys, oxs=None, oys=None, size=4.8, extra=None):
    x, y = expand(xs, ys)
    if extra:
        ex, ey = expand(*extra)
        x += ex; y += ey
    fig.add_trace(go.Scatter(x=x, y=y, mode="markers", xaxis=f"x{n}", yaxis=f"y{n}", hoverinfo="skip", showlegend=False,
                             marker=dict(color=DOT, size=size, line=dict(width=0))))
    if oxs:
        x, y = expand(oxs, oys)
        fig.add_trace(go.Scatter(x=x, y=y, mode="markers", xaxis=f"x{n}", yaxis=f"y{n}", hoverinfo="skip", showlegend=False,
                                 marker=dict(symbol="circle-open", color="#1c1c1c", size=7.4, line=dict(width=1.3, color="#1c1c1c"))))
def half(n, c, prof, sign, color, k, marks):
    vals = [p[0] for p in prof]; ws = [p[1] for p in prof]
    x = [c] + [c + sign * w * k for w in ws] + [c]
    y = [vals[0]] + vals + [vals[-1]]
    fig.add_trace(go.Scatter(x=x, y=y, mode="lines", fill="toself", fillcolor=color, xaxis=f"x{n}", yaxis=f"y{n}", hoverinfo="skip",
                             showlegend=False, line=dict(color=color, width=0.5, shape="spline", smoothing=.55)))
    for m in marks:
        w = float(np.interp(m, vals[::-1], ws[::-1]))
        fig.add_trace(go.Scatter(x=[c, c + sign * (w + 1) * k], y=[m, m], mode="lines", xaxis=f"x{n}", yaxis=f"y{n}", hoverinfo="skip",
                                 showlegend=False, line=dict(color="white", width=2.6)))
def pairs(n, c, off, items, color):
    for a, b in items:
        fig.add_trace(go.Scatter(x=[c - off, c + off], y=[a, b], mode="lines", xaxis=f"x{n}", yaxis=f"y{n}", hoverinfo="skip",
                                 showlegend=False, opacity=.92, line=dict(color=color, width=2.6)))
def dots(n, x, values):
    fig.add_trace(go.Scatter(x=[x]*len(values), y=values, mode="markers", xaxis=f"x{n}", yaxis=f"y{n}", hoverinfo="skip", showlegend=False,
                             marker=dict(color="#0f7a80", size=8, line=dict(width=0))))
def hgrid(n, x0, x1, values, above=False):
    color = "rgba(110,110,110,.55)" if above else GRID
    for v in values:
        shapes.append(dict(type="line", xref="paper", yref=f"y{n}", x0=px(x0), x1=px(x1), y0=v, y1=v,
                           line=dict(color=color, width=2.4), layer="above" if above else "below"))

Y12 = [1,.8,.6,.4,.2,0,-.2]; Y12L = ["1","0.8","0.6","0.4","0.2","0","-0.2"]
Y1 = [1,.5,0,-.5,-1]; Y1L = ["1","0.5","0","-0.5","-1"]

# panel a
axes(1,123,402,88.3,341.3,(130,0),(394,100),(88.3,1),(341.3,-.2),[0,50,100],["0","50","100"],Y12,Y12L)
axes(2,504.4,783.4,88.3,341.3,(512,0),(774,100),(88.3,1),(341.3,-.2),[0,50,100],["0","50","100"],Y12,Y12L)
axes(3,881.8,1161.6,88.3,341.3,(892,0),(1150,200),(88.3,1),(341.3,-.2),[0,100,200],["0","100","200"],Y12,Y12L)
cloud(1,a1_x,a1_y,a1_open_x,a1_open_y); cloud(2,a2_x,a2_y,a2_open_x,a2_open_y); cloud(3,a3_x,a3_y,a3_open_x,a3_open_y,extra=(a3_core_x,a3_core_y))
# panel b
axes(4,123,402,429.3,682.7,(132,0),(342.5,120),(429.3,1),(682.7,-1),[0,40,80,120],["0","40","80","120"],Y1,Y1L)
axes(5,505,783.4,431.7,685.7,(514,0),(752,160),(431.7,1),(685.7,-1),[0,40,80,120,160],["0","40","80","120","160"],Y1,Y1L)
axes(6,885.6,1164.3,428.3,682.3,(891.2,0),(1143.9,80),(428.3,1),(682.3,-1),[0,40,80],["0","40","80"],Y1,Y1L)
cloud(4,b1_x,b1_y,b1_open_x,b1_open_y,extra=(b1_core_x,b1_core_y)); cloud(5,b2_x,b2_y,b2_open_x,b2_open_y,extra=(b2_core_x,b2_core_y)); cloud(6,b3_x,b3_y,b3_open_x,b3_open_y)

for x, s in [(61,0),(442,0),(821,0)]:
    text(x, 211.7, "LT fidelity", 25, angle=-90)
for x, y in [(61,553),(442,555),(826,555)]:
    text(x, y, "LT fidelity", 25, angle=-90)
for x in [266,648,1027]:
    text(x, 381.7, "Number of ripples", 25.4)
for x, y in [(266.7,722.7),(648,726),(1027,722)]:
    text(x, y, "Number of units", 25.4)
for x, s in [(260,"Rat A - linear maze"),(645,"Rat U"),(1012,"Rat R")]:
    text(x, 58, s, 25.2, bold=True, color="#333333")
text(759, 13, "Significant", 22, anchor="left"); text(759, 33, "Non-significant", 22, anchor="left")
shapes.append(dict(type="circle", xref="paper", yref="paper", x0=px(743.5), x1=px(748.5), y0=py(15.5), y1=py(10.5), fillcolor=DOT, line=dict(width=0)))
shapes.append(dict(type="circle", xref="paper", yref="paper", x0=px(742.5), x1=px(749.5), y0=py(36.5), y1=py(29.5), fillcolor="white", line=dict(width=1.2, color="#222222")))
for x, y, s in [(15,27,"a"),(15,398,"b"),(14,784,"c"),(397,784,"d"),(14,1257,"e"),(449,1257,"f"),(772,1262,"g")]:
    text(x, y, s, 36, bold=True, color="#111111")

# panel c
axes(7,126.3,274,851.7,1165,(163,0),(239.7,1),(851.7,1),(1165,-1),[0,1],None,Y1,Y1L)
kc = 1/76.7
half(7,0,c_qw_pre,-1,BLUE,kc,c_white["qw_pre"]); half(7,0,c_qw_post,1,RED,kc,c_white["qw_post"])
half(7,1,c_sws_pre,-1,BLUE,kc,c_white["sws_pre"]); half(7,1,c_sws_post,1,RED,kc,c_white["sws_post"])
pairs(7,0,.26,c_qw_orange,ORANGE); pairs(7,0,.26,c_qw_purple,PURPLE); pairs(7,0,.26,c_qw_teal,TEAL)
pairs(7,1,.26,c_sws_orange,ORANGE); pairs(7,1,.26,c_sws_purple,PURPLE); pairs(7,1,.26,c_sws_teal,TEAL)
hgrid(7,126.3,274,[1,.5,0,-.5],above=True)
text(64.7,1015,"LT fidelity",25,angle=-90); text(165,1188,"QW",24.5); text(236.6,1188,"SWS",24.5)
bracket(154,179.5,839); bracket(227.7,253,839)
text(167,833,"***",20); text(239,833,"***",20)

# panel d
axes(8,472.3,707,862.3,1165.7,(513.4,0),(590,1),(862.3,1),(1165.7,0),[0,1,2],None,[0,.2,.4,.6,.8,1],["0","0.2","0.4","0.6","0.8","1"])
kd = 1/76.8
half(8,0,d_qw_pre,-1,BLUE,kd,d_white["qw_pre"]); half(8,0,d_qw_post,1,RED,kd,d_white["qw_post"])
half(8,1,d_sws_pre,-1,BLUE,kd,d_white["sws_pre"]); half(8,1,d_sws_post,1,RED,kd,d_white["sws_post"])
half(8,2.015,d_rem_pre,-1,BLUE,kd,d_white["rem_pre"]); half(8,2.015,d_rem_post,1,RED,kd,d_white["rem_post"])
pairs(8,0,.26,d_qw_teal,TEAL); pairs(8,0,.26,d_qw_orange,ORANGE); pairs(8,0,.26,d_qw_purple,PURPLE)
pairs(8,1,.26,d_sws_teal,TEAL); pairs(8,1,.26,d_sws_orange,ORANGE); pairs(8,1,.26,d_sws_purple,PURPLE)
pairs(8,2.015,.26,d_rem_orange,ORANGE); pairs(8,2.015,.26,d_rem_purple,PURPLE)
dots(8,2.255,d_rem_dots)
hgrid(8,472.3,710,[1,.8,.6,.4,.2],above=True)
text(393.7,1015,"Posterior average Gini coefficient",26.3,angle=-90)
text(509,1190,"QW",24.5); text(581,1190,"SWS",24.5); text(663,1190,"REM",24.5)
bracket(504.5,670.5,802); bracket(504.5,587.5,822.7); bracket(591,670.5,822.7)
bracket(496.4,521.4,854.7); bracket(574.6,599.6,854.7); bracket(657.6,682.6,854.7)
text(589,796,"***",20); text(547,818,"***",20); text(631,818,"***",20); text(509,846,"***",20); text(672,846,"***",20)
text(585.7,840,"ns",24)

# insets
X6 = [0,.2,.4,.6,.8,1]
axes(9,800,944,793.3,942.3,(800,0),(944,1),(793.3,1),(942.3,-1),X6,None,Y1,Y1L,tickfs=21)
axes(10,800,944,1000,1149,(800,0),(944,1),(1000,1),(1149,-1),X6,["0","0.2","0.4","0.6","0.8","1"],Y1,Y1L,tickfs=21,xangle=-45)
cloud(9,pre_x,pre_y,size=7,extra=(pre_x2,pre_y2)); cloud(10,post_x,post_y,size=7,extra=(post_x2,post_y2))
for n, fx, fy in [(9,pre_fit_x,pre_fit_y),(10,post_fit_x,post_fit_y)]:
    fig.add_trace(go.Scatter(x=fx,y=fy,mode="lines",xaxis=f"x{n}",yaxis=f"y{n}",hoverinfo="skip",showlegend=False,line=dict(color="#111111",width=2)))
text(806.7,777,"PRE",24.5,color=BLUE,anchor="left"); text(806.7,991.7,"POST",24.5,color="#D9547A",anchor="left")
text(741.7,870,"LT fidelity",24.5,angle=-90); text(741.7,1076.7,"LT fidelity",24.5,angle=-90)
pline(805,926.7,832.7,926.7,"#222222",2); pline(806.7,1133,834,1133,"#222222",2)
text(843,924,"R<sup>2</sup> = 0.00",20.5,anchor="left"); text(845,1130.7,"R<sup>2</sup> = 0.01**",20.5,anchor="left")
text(865,1202,"Posterior average",21.5,color="#555555"); text(865,1223,"Gini coefficient",21.5,color="#555555")
# legends
for y0, y1, c in [(776.7,794.3,BLUE),(805,823.3,RED)]:
    shapes.append(dict(type="rect",xref="paper",yref="paper",x0=px(980.7),x1=px(1031),y0=py(y1),y1=py(y0),fillcolor=c,line=dict(width=0)))
text(1039,785.7,"PRE",24.5,anchor="left"); text(1039,814,"POST",24.5,anchor="left")
for y, a, b in [(900,"***","p &lt; 0.001"),(923,"**","p &lt; 0.01"),(944,"*","p &lt; 0.05"),(966,"ns","p &gt; 0.05")]:
    text(1013,y,a,20.5,color="#8c8c8c",anchor="right"); text(1036.7,y,b,20.5,color="#8c8c8c",anchor="left")
for y, c, s, ty in [(1070,ORANGE,"Grosmark",1066),(1098,TEAL,"Giri",1094),(1125,PURPLE,"Miyawaki",1123)]:
    pline(979,y,1045,y,c,3.5); text(1060,ty,s,24.5,anchor="left",color="#333333")

# panel e
axes(11,125.4,360.7,1290,1595.7,(167,0),(245.8,1),(1322.7,4000),(1564.3,0),[0,1,2],None,[0,1000,2000,3000,4000],["0","1000","2000","3000","4000"])
hgrid(11,125.4,360.7,[0,1000,2000,3000,4000])
ke = 1/78.4
half(11,0,e_qw_pre,-1,BLUE,ke,e_white["qw_pre"]); half(11,0,e_qw_post,1,RED,ke,e_white["qw_post"])
half(11,1,e_sws_pre,-1,BLUE,ke,e_white["sws_pre"]); half(11,1,e_sws_post,1,RED,ke,e_white["sws_post"])
half(11,2,e_rem_pre,-1,BLUE,ke,e_white["rem_pre"]); half(11,2,e_rem_post,1,RED,ke,e_white["rem_post"])
pairs(11,0,.255,e_qw_teal,TEAL); pairs(11,0,.255,e_qw_orange,ORANGE); pairs(11,0,.255,e_qw_purple,PURPLE)
pairs(11,1,.26,e_sws_purple,PURPLE); pairs(11,1,.26,e_sws_orange,ORANGE); pairs(11,1,.26,e_sws_teal,TEAL)
pairs(11,2,.26,e_rem_orange,ORANGE); pairs(11,2,.26,e_rem_purple,PURPLE); pairs(11,2,.26,e_rem_teal,TEAL)
dots(11,2.25,e_rem_dots)
text(28.4,1453,"Number of firing time bins",25,angle=-90)
text(164,1617.7,"QW",24.5); text(235,1617.7,"SWS",24.5); text(323,1617.7,"REM",24.5)

# panel f
axes(12,510,746,1291,1595.7,(547.8,0),(629.4,1),(1291,10),(1571,0),[0,1,2.01],None,[0,2,4,6,8,10],["0","2","4","6","8","10"])
hgrid(12,510,746,[0,2,4,6,8,10])
kf = 1/82.3
half(12,0,f_qw_pre,-1,BLUE,kf,f_white["qw_pre"]); half(12,0,f_qw_post,1,RED,kf,f_white["qw_post"])
half(12,1,f_sws_pre,-1,BLUE,kf,f_white["sws_pre"]); half(12,1,f_sws_post,1,RED,kf,f_white["sws_post"])
half(12,2.01,f_rem_pre,-1,BLUE,kf,f_white["rem_pre"]); half(12,2.01,f_rem_post,1,RED,kf,f_white["rem_post"])
pairs(12,0,.255,f_qw_teal,TEAL); pairs(12,0,.255,f_qw_purple,PURPLE); pairs(12,0,.255,f_qw_orange,ORANGE)
pairs(12,1,.255,f_sws_teal,TEAL); pairs(12,1,.255,f_sws_purple,PURPLE); pairs(12,1,.255,f_sws_orange,ORANGE)
pairs(12,2.01,.25,f_rem_purple,PURPLE); pairs(12,2.01,.25,f_rem_teal,TEAL); pairs(12,2.01,.25,f_rem_orange,ORANGE)
dots(12,2.26,f_rem_dots)
text(440,1452.7,"Mean number of cofiring units",25.2,angle=-90)
text(544.8,1617.7,"QW",24.5); text(619.4,1617.7,"SWS",24.5); text(711.4,1617.7,"REM",24.5)

# panel g heatmaps
axes(13,948.3,1045,1297.3,1394,(948.3,0),(1045,1),(1297.3,1),(1394,0),[0,1],None,[0,1],None,ticklen=3)
axes(14,1056.7,1153.3,1297.3,1394,(1056.7,0),(1153.3,1),(1297.3,1),(1394,0),[0,1],None,[0,1],None,ticklen=3)
fig.add_trace(go.Heatmap(x=heat_pos,y=heat_pos,z=sws_rows_top_down[::-1],xaxis="x13",yaxis="y13",zmin=0,zmax=.5,colorscale="Inferno",zsmooth="best",hoverinfo="skip",
    colorbar=dict(x=px(829),xanchor="left",y=py(1414),yanchor="bottom",len=94.7,lenmode="pixels",thickness=13.3,thicknessmode="pixels",
                  tickvals=[],showticklabels=False,outlinewidth=0,xpad=0,ypad=0)))
fig.add_trace(go.Heatmap(x=heat_pos,y=heat_pos,z=qw_rows_top_down[::-1],xaxis="x14",yaxis="y14",zmin=0,zmax=.5,colorscale="Inferno",zsmooth="best",hoverinfo="skip",showscale=False))
for x, y, s in [(936,1300,"1"),(936,1391.7,"0"),(949,1410,"0"),(1041.7,1410,"1"),(1058,1410,"0"),(1150,1410,"1")]:
    text(x,y,s,20.5)
text(995,1271.7,"SWS",25,color="#E0567A"); text(1101,1271.7,"QW",25,color="#E0567A")
text(908,1343,"Field position",25,angle=-90); text(1053,1432.7,"Learned position",25)
text(846.7,1317,"&gt;0.5",20.5,anchor="left"); text(851.7,1412.7,"0",20.5); text(811.7,1363,"PV correlation",21.5,angle=-90)

# panel g cumulative
pline(925.7,1472.7,1155,1472.7,"#a8a8a8",2); pline(925.7,1560,1155,1560,"#a8a8a8",2)
pline(925.7,1516,1155,1516,"#555555",2,"dash")
for n, x0, x1, m, xs, mean, lo, hi in [(15,951.7,1048.3,sws_median,cdf_sws_x,sws_mean,sws_lo,sws_hi),(16,1059.3,1154.3,qw_median,cdf_qw_x,qw_mean,qw_lo,qw_hi)]:
    fig.layout[f"xaxis{n}"] = dict(domain=[px(x0),px(x1)],range=[-1,1],anchor="free",position=py(1582.7),showline=True,linecolor=AXC,linewidth=3.5,ticks="outside",
        ticklen=4,tickwidth=3,tickcolor=AXC,tickmode="array",tickvals=[-1,0,1],ticktext=["\u22121","0","1"],showgrid=False,zeroline=False,ticklabelstandoff=-6,
        tickfont=dict(family=FONT,size=21,color=TXT))
    fig.add_trace(go.Scatter(x=xs,y=cdf_y,mode="lines",xaxis=f"x{n}",yaxis="y15",hoverinfo="skip",showlegend=False,cliponaxis=False,line=dict(color="#E0587F",width=3,shape="spline")))
    mean_a, lo_a, hi_a = np.array(mean), np.array(lo), np.array(hi)
    for c in [PURPLE,TEAL,ORANGE]:
        idx = [i for i, k in enumerate(session_color) if k == c]
        fig.add_trace(go.Scatter(x=mean_a[idx],y=np.array(session_y)[idx],mode="markers",xaxis=f"x{n}",yaxis="y15",hoverinfo="skip",showlegend=False,cliponaxis=False,
            marker=dict(color=c,size=7),error_x=dict(type="data",symmetric=False,array=(hi_a-mean_a)[idx],arrayminus=(mean_a-lo_a)[idx],color=c,thickness=2,width=0)))
    shapes.append(dict(type="line",xref=f"x{n}",yref="paper",x0=m,x1=m,y0=py(1516),y1=py(1570),line=dict(color="#666666",width=1.8,dash="dash"),layer="above"))
fig.layout["yaxis15"] = dict(domain=[py(1560),py(1472.7)],range=[0,1],anchor="free",position=px(925.7),showline=True,linecolor=AXC,linewidth=4,ticks="outside",ticklen=3,
    tickwidth=3,tickcolor=AXC,tickmode="array",tickvals=[0,.5,1],ticktext=["0","0.5","1"],showgrid=False,zeroline=False,tickfont=dict(family=FONT,size=21,color=TXT))
text(1012,1571.7,"0.25***",21,anchor="left"); text(1123,1571.7,"0.33***",21,anchor="left")
text(1056,1630,"LT PF fidelity",25)
text(830,1523,"Cumulative",25,angle=-90); text(855,1523,"fraction of units",25,angle=-90)

fig.update_layout(width=W, height=H, autosize=False, margin=dict(l=0,r=0,t=0,b=0,pad=0,autoexpand=False), paper_bgcolor="white", plot_bgcolor="rgba(0,0,0,0)",
                  showlegend=False, annotations=annots, shapes=shapes, font=dict(family=FONT,color=TXT))
fig.write_html("out.html", config=dict(displayModeBar=False), post_script="document.body.style.margin='0';")
